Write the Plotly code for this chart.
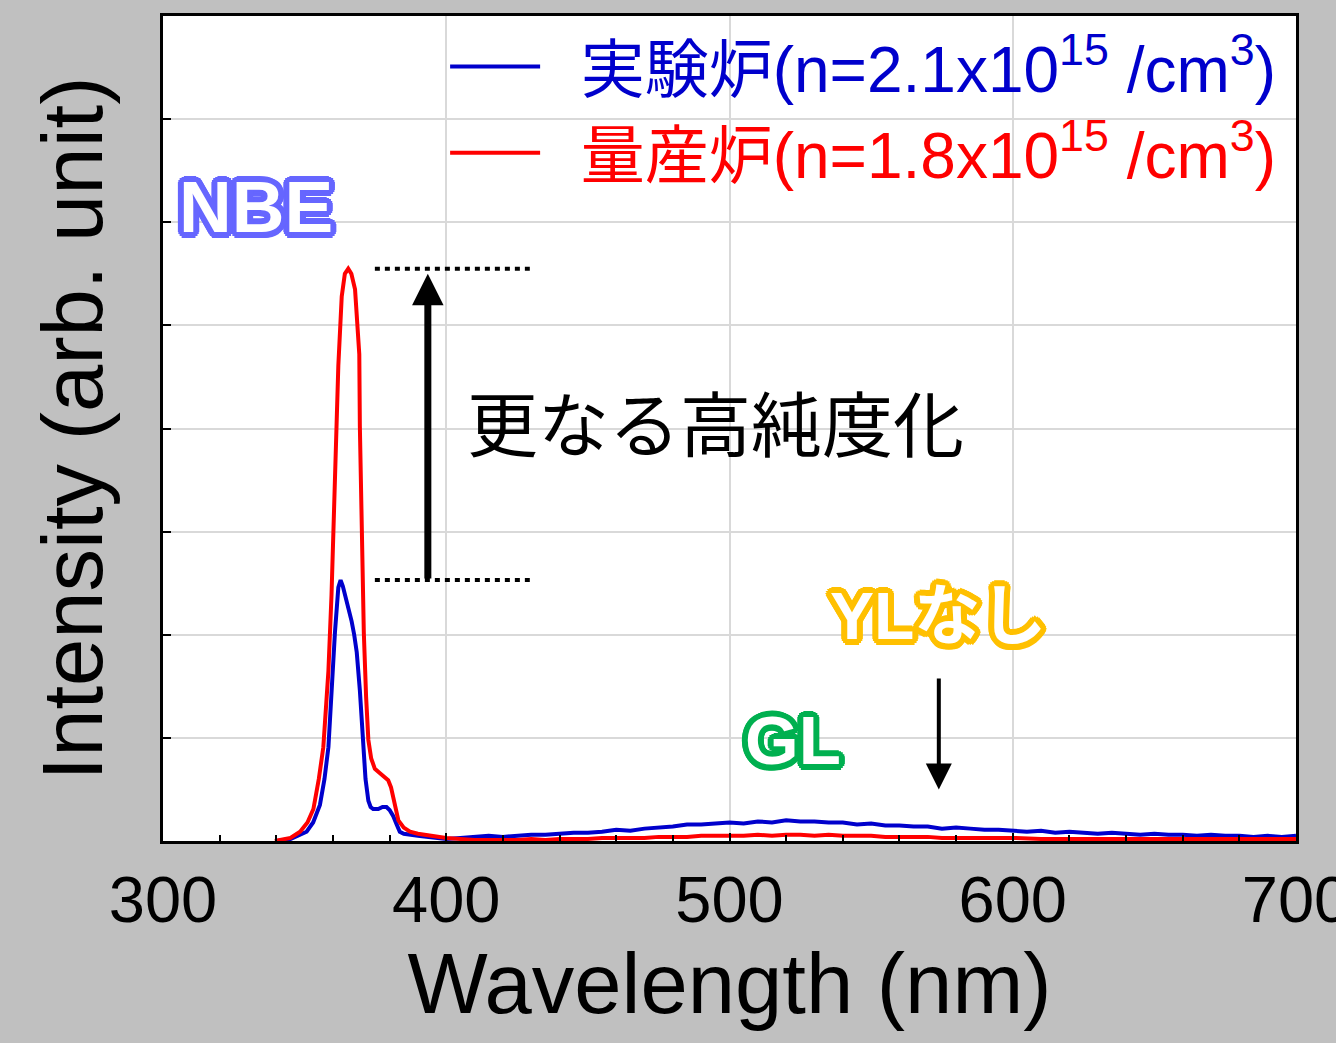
import math
import plotly.graph_objects as go

# ---- data ----
NB = "\u00a0\u00a0"
blue_name = NB + '<span style="color:#0000CC">実験炉(n=2.1x10<sup>15</sup> /cm<sup>3</sup>)</span>'
red_name = NB + '<span style="color:#FF0000">量産炉(n=1.8x10<sup>15</sup> /cm<sup>3</sup>)</span>'

blue_x = [340, 345, 350.7, 353, 355.4, 357, 358.4, 359.5, 360.7, 361.9, 362.7, 363.5, 364.3, 365.5,
          366.6, 367.5, 368.4, 369.5, 370.1, 370.7, 371.5, 372.5, 373.3, 374.2, 376, 377.5, 378.9,
          380, 381.3, 382.5, 383.6, 385, 387, 390, 393, 396, 400,
          405, 410, 415, 420, 425, 430, 435, 440, 445, 450, 455, 460, 465, 470, 475, 480, 485, 490,
          495, 500, 505, 510, 515, 520, 525, 530, 535, 540, 545, 550, 555, 560, 565, 570, 575, 580,
          585, 590, 595, 600, 605, 610, 615, 620, 625, 630, 635, 640, 645, 650, 655, 660, 665, 670,
          675, 680, 685, 690, 695, 700]
blue_y = [0.0, 0.02, 0.09, 0.18, 0.35, 0.6, 0.91, 1.46, 2.02, 2.46, 2.53, 2.47, 2.39, 2.27,
          2.13, 2.0, 1.83, 1.46, 1.2, 0.91, 0.6, 0.39, 0.33, 0.31, 0.31, 0.33, 0.33,
          0.30, 0.24, 0.16, 0.09, 0.07, 0.06, 0.05, 0.04, 0.03, 0.02,
          0.03, 0.04, 0.05, 0.04, 0.05, 0.06, 0.06, 0.07, 0.08, 0.08, 0.09, 0.11, 0.10, 0.12, 0.13, 0.14, 0.16, 0.16,
          0.17, 0.18, 0.17, 0.19, 0.18, 0.20, 0.19, 0.19, 0.18, 0.18, 0.16, 0.17, 0.15, 0.15, 0.14, 0.14, 0.12, 0.13,
          0.12, 0.11, 0.11, 0.10, 0.09, 0.10, 0.08, 0.09, 0.08, 0.07, 0.08, 0.07, 0.06, 0.07, 0.06, 0.06, 0.05, 0.06,
          0.05, 0.05, 0.04, 0.05, 0.04, 0.05]

red_x = [339.5, 345, 348.4, 351, 353.1, 355, 356.6, 357.5, 358.4, 359.5, 360.7, 361.9, 363.1, 364.2,
         365.4, 366.5, 367.8, 368.6, 369.3, 369.5, 370.1, 370.9, 371.7, 372.5, 373.5, 374.8, 376.5,
         378, 379.5, 380.5, 381.3, 382.2, 383.1, 385, 387.2, 390, 395, 400,
         405, 410, 415, 420, 425, 430, 435, 440, 445, 450, 455, 460, 465, 470, 475, 480, 485, 490,
         495, 500, 505, 510, 515, 520, 525, 530, 535, 540, 545, 550, 555, 560, 565, 570, 575, 580,
         585, 590, 595, 600, 610, 620, 630, 640, 650, 660, 670, 680, 690, 700]
red_y = [0.0, 0.03, 0.09, 0.18, 0.31, 0.6, 0.91, 1.25, 1.65, 2.39, 3.5, 4.61, 5.28, 5.5,
         5.55, 5.5, 5.35, 5.05, 4.72, 4.02, 3.13, 2.02, 1.4, 0.98, 0.8, 0.70, 0.66,
         0.63, 0.59, 0.52, 0.43, 0.3, 0.20, 0.13, 0.09, 0.07, 0.05, 0.03,
         0.02, 0.01, 0.01, 0.01, 0.01, 0.02, 0.01, 0.02, 0.02, 0.02, 0.03, 0.03, 0.03, 0.03, 0.04, 0.04, 0.04, 0.05,
         0.05, 0.05, 0.05, 0.06, 0.05, 0.06, 0.06, 0.05, 0.06, 0.05, 0.05, 0.05, 0.04, 0.04, 0.04, 0.04, 0.03, 0.03,
         0.03, 0.03, 0.03, 0.03, 0.02, 0.02, 0.02, 0.02, 0.02, 0.02, 0.02, 0.02, 0.02, 0.02]

x_ticks = [300, 400, 500, 600, 700]

LAT = "Liberation Sans, Arial, Noto Sans CJK JP, sans-serif"
CJK = "Noto Sans CJK JP, sans-serif"


def outline(color, r=6):
    offs = []
    for k in range(16):
        a = 2 * math.pi * k / 16
        offs.append(f"{r*math.cos(a):.1f}px {r*math.sin(a):.1f}px 0 {color}")
    return ", ".join(offs)


fig = go.Figure()
fig.add_trace(go.Scatter(x=blue_x, y=blue_y, mode="lines", name=blue_name,
                         line=dict(color="#0000CC", width=4)))
fig.add_trace(go.Scatter(x=red_x, y=red_y, mode="lines", name=red_name,
                         line=dict(color="#FF0000", width=4)))

fig.update_layout(
    width=1336, height=1043,
    margin=dict(l=163, r=40, t=16, b=202),
    paper_bgcolor="#C0C0C0", plot_bgcolor="white",
    font=dict(family=LAT, color="black"),
    showlegend=True,
    legend=dict(x=0.249, y=0.997, xanchor="left", yanchor="top",
                bgcolor="rgba(0,0,0,0)", font=dict(size=64, family=LAT),
                itemwidth=90, tracegroupgap=0),
    xaxis=dict(range=[300, 700], tickvals=x_ticks, ticktext=[str(v) for v in x_ticks],
               showgrid=True, gridcolor="#D9D9D9", gridwidth=2,
               ticks="inside", ticklen=8, tickwidth=2, tickcolor="black",
               minor=dict(dtick=20, ticks="inside", ticklen=6, tickwidth=2, tickcolor="black", showgrid=False),
               showline=True, linecolor="black", linewidth=3, mirror=True,
               tickfont=dict(size=65, family=LAT), ticklabelstandoff=0, ticklabeloverflow="allow",
               title=dict(text="Wavelength (nm)", font=dict(size=85, family=LAT), standoff=14),
               zeroline=False, automargin=False),
    yaxis=dict(range=[0, 8], dtick=1, showticklabels=False,
               showgrid=True, gridcolor="#D9D9D9", gridwidth=2,
               ticks="inside", ticklen=8, tickwidth=2, tickcolor="black",
               showline=True, linecolor="black", linewidth=3, mirror=True,
               title=dict(text="Intensity (arb. unit)\u00a0", font=dict(size=85, family=LAT), standoff=30),
               zeroline=False, automargin=False),
)

# dotted reference lines
for yv in [max(red_y), max(blue_y)]:
    fig.add_shape(type="line", xref="x", yref="y", x0=374.8, x1=429.5, y0=yv, y1=yv,
                  line=dict(color="black", width=4, dash="5px,5px"))

# up arrow
fig.add_annotation(x=393.5, y=5.5, ax=393.5, ay=max(blue_y), xref="x", yref="y", axref="x", ayref="y",
                   text="", showarrow=True, arrowhead=2, arrowwidth=7, arrowsize=0.9, arrowcolor="black")
# down arrow
fig.add_annotation(x=573.9, y=0.5, ax=573.9, ay=1.59, xref="x", yref="y", axref="x", ayref="y",
                   text="", showarrow=True, arrowhead=2, arrowwidth=4, arrowsize=1.3, arrowcolor="black")

fig.add_annotation(x=495.2, y=4.08, xref="x", yref="y", text="更なる高純度化", showarrow=False,
                   font=dict(size=71, family=CJK, color="black"))
fig.add_annotation(x=333, y=6.15, xref="x", yref="y", text="<b>NBE</b>", showarrow=False,
                   font=dict(size=73, family=LAT, color="white", shadow=outline("#6666FF")))
fig.add_annotation(x=522.4, y=0.97, xref="x", yref="y", text="<b>GL</b>", showarrow=False,
                   font=dict(size=69, family=LAT, color="white", shadow=outline("#00B050")))
fig.add_annotation(x=573.6, y=2.18, xref="x", yref="y", text="<b>YLなし</b>", showarrow=False,
                   font=dict(size=66, family="Liberation Sans, Noto Sans CJK JP", color="white",
                             shadow=outline("#FFC000")))

fig.write_html("out.html", config={"displayModeBar": False},
               post_script="document.body.style.margin='0';")
